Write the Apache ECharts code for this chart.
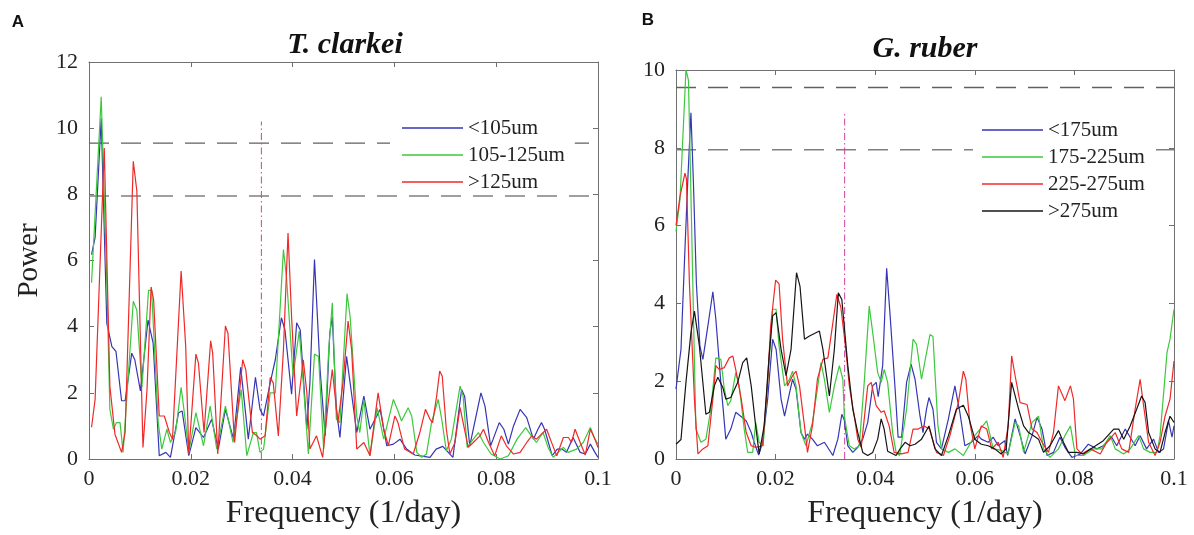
<!DOCTYPE html>
<html><head><meta charset="utf-8">
<script src="https://cdn.jsdelivr.net/npm/echarts@6/dist/echarts.min.js"></script>
<style>html,body{margin:0;padding:0;background:#fff}#c{width:1194px;height:535px}</style>
</head><body><div id="c"></div>
<script>
// ---------- data ----------
const panelTitles = ['T. clarkei', 'G. ruber'];
const panelLetters = ['A', 'B'];
const leftNames = ['<105um', '105-125um', '>125um'];
const rightNames = ['<175um', '175-225um', '225-275um', '>275um'];
const xLabel = 'Frequency (1/day)';
const yLabel = 'Power';

// T. clarkei
const tcSmall = [[0.0005,6.18],[0.0012,6.7],[0.0024,10.3],[0.0035,4.1],[0.0045,3.4],[0.0053,3.25],[0.0064,1.76],[0.0071,1.76],[0.0084,3.2],[0.009,3.0],[0.0101,2.06],[0.0116,4.2],[0.0126,3.5],[0.0138,0.1],[0.0151,0.2],[0.016,0.05],[0.0176,1.4],[0.0183,1.45],[0.0196,0.1],[0.021,0.95],[0.0225,0.65],[0.0241,1.2],[0.0254,0.3],[0.0268,1.5],[0.0284,0.6],[0.0298,2.77],[0.0313,0.6],[0.0327,2.47],[0.0336,1.5],[0.0343,1.3],[0.0356,2.3],[0.0366,3.0],[0.0378,4.27],[0.0385,3.9],[0.0398,1.96],[0.0408,4.12],[0.0415,3.9],[0.0428,0.9],[0.0434,2.3],[0.0443,6.03],[0.0454,2.7],[0.0464,0.7],[0.0473,3.8],[0.0478,4.3],[0.0486,1.5],[0.0493,0.65],[0.0506,3.1],[0.0513,2.3],[0.0526,0.8],[0.054,1.9],[0.0552,0.9],[0.0572,1.5],[0.0585,0.4],[0.0598,0.45],[0.0611,0.6],[0.0624,0.3],[0.064,0.12],[0.0657,0.08],[0.067,0.05],[0.0682,0.3],[0.0695,0.38],[0.0709,0.15],[0.0715,0.05],[0.0722,0.9],[0.0732,2.1],[0.0738,1.9],[0.0748,0.4],[0.0755,0.9],[0.077,2.0],[0.0778,1.6],[0.0789,0.4],[0.0794,0.6],[0.0806,1.1],[0.0815,0.9],[0.0824,0.45],[0.0834,1.0],[0.0847,1.5],[0.086,1.25],[0.0873,0.6],[0.0882,0.9],[0.0889,1.1],[0.0895,0.9],[0.091,0.1],[0.092,0.3],[0.0929,0.3],[0.0938,0.2],[0.0951,0.65],[0.0965,0.2],[0.0975,0.15],[0.0985,0.45],[0.0994,0.2],[0.1,0.05]];
const tcMid = [[0.0005,5.33],[0.0014,8.0],[0.0024,10.95],[0.0035,5.33],[0.0041,1.5],[0.0048,0.9],[0.0054,1.1],[0.0061,1.1],[0.0067,0.2],[0.0087,4.77],[0.0094,4.5],[0.0104,2.17],[0.0117,5.1],[0.0123,5.1],[0.0136,1.1],[0.0143,0.3],[0.0153,0.9],[0.016,0.5],[0.017,0.8],[0.0181,2.17],[0.0192,0.8],[0.0196,0.2],[0.021,1.4],[0.0225,0.4],[0.0238,1.6],[0.0251,0.3],[0.0268,1.6],[0.0283,0.5],[0.0299,2.1],[0.031,0.1],[0.0323,0.8],[0.0329,0.8],[0.0336,0.2],[0.0343,0.3],[0.0356,2.0],[0.0366,2.0],[0.0382,6.33],[0.0388,5.5],[0.0401,2.5],[0.0413,3.87],[0.0421,2.3],[0.0431,0.15],[0.0443,3.17],[0.0451,3.1],[0.0461,0.3],[0.0471,3.3],[0.0478,4.72],[0.0486,1.2],[0.0493,1.1],[0.0507,5.0],[0.0513,4.3],[0.0526,1.3],[0.0532,0.8],[0.054,1.8],[0.0552,0.1],[0.0566,1.55],[0.0579,0.6],[0.0598,1.8],[0.0607,1.45],[0.0614,1.15],[0.0627,1.55],[0.0634,1.3],[0.0644,0.2],[0.0654,0.05],[0.0663,0.15],[0.0673,1.1],[0.0686,1.8],[0.0693,1.2],[0.0702,0.25],[0.0712,0.6],[0.0729,2.2],[0.0735,1.9],[0.0743,0.35],[0.0755,0.6],[0.0765,0.8],[0.0775,0.5],[0.079,0.15],[0.0808,0],[0.0824,0.1],[0.0841,0.6],[0.0858,0.95],[0.0869,0.7],[0.0879,0.5],[0.0892,0.8],[0.0902,0.35],[0.0912,0.05],[0.0932,0.35],[0.0941,0.2],[0.0958,0.3],[0.0971,0.5],[0.0985,0.95],[0.0994,0.6],[0.1,0.45]];
const tcLarge = [[0.0005,0.96],[0.0012,1.8],[0.003,9.4],[0.0041,2.2],[0.0051,0.75],[0.0064,0.2],[0.0071,0.8],[0.0087,9.0],[0.0094,8.1],[0.0106,0.35],[0.0114,2.1],[0.0122,5.2],[0.0127,4.8],[0.0138,1.3],[0.0148,1.3],[0.0158,0.8],[0.0164,0.6],[0.0181,5.68],[0.019,3.4],[0.0196,0.15],[0.021,3.17],[0.0215,2.9],[0.0226,0.8],[0.0239,3.57],[0.0243,3.2],[0.0253,0.15],[0.0268,4.02],[0.0273,3.8],[0.0286,0.5],[0.0302,3.0],[0.0308,2.7],[0.0321,0.8],[0.033,0.7],[0.0336,0.6],[0.0346,0.7],[0.0356,2.46],[0.0362,2.3],[0.0372,0.7],[0.0382,3.3],[0.0391,6.83],[0.0398,4.3],[0.0408,1.3],[0.0421,3.0],[0.0428,2.0],[0.0434,0.3],[0.0447,0.7],[0.0459,0.05],[0.047,1.7],[0.0478,2.7],[0.0489,1.1],[0.0499,2.3],[0.0509,4.17],[0.0516,3.3],[0.0526,0.3],[0.054,0.5],[0.0552,0.1],[0.0568,2.0],[0.0579,0.9],[0.0588,0.4],[0.0601,1.3],[0.0607,1.1],[0.062,0.3],[0.0637,0.15],[0.065,0.8],[0.0661,1.5],[0.067,1.2],[0.0675,1.1],[0.0683,1.9],[0.0689,2.66],[0.0694,2.5],[0.0702,0.9],[0.0709,0.15],[0.0719,0.5],[0.0729,1.56],[0.0735,1.1],[0.0745,0.35],[0.0755,0.5],[0.0768,0.7],[0.0775,0.9],[0.0785,0.5],[0.0797,0.1],[0.081,0.7],[0.082,0.4],[0.0834,0.15],[0.0847,0.2],[0.086,0.5],[0.087,0.7],[0.0879,0.6],[0.0899,0.9],[0.091,0.45],[0.0919,0.1],[0.0932,0.65],[0.0942,0.65],[0.0948,0.5],[0.0955,0.9],[0.0965,0.5],[0.0975,0.12],[0.0985,0.9],[0.0994,0.6],[0.1,0.35]];

// G. ruber
const grA = [[0,1.8],[0.001,2.82],[0.0018,5.4],[0.0024,7.26],[0.003,8.9],[0.0035,7.1],[0.0041,4.5],[0.0048,2.9],[0.0054,2.56],[0.0064,3.42],[0.0074,4.3],[0.008,3.6],[0.009,1.97],[0.01,0.51],[0.011,0.77],[0.012,1.2],[0.013,1.1],[0.0141,0.98],[0.0151,0.68],[0.0157,0.43],[0.0166,0.1],[0.0174,0.43],[0.0184,1.54],[0.0194,3.08],[0.0201,2.82],[0.0211,1.54],[0.0218,1.1],[0.0228,1.7],[0.0234,2.05],[0.0241,1.8],[0.0251,0.68],[0.0258,0.51],[0.0264,0.64],[0.0274,0.51],[0.0284,0.34],[0.0298,0.43],[0.0315,0.09],[0.0325,0.51],[0.0333,1.15],[0.0338,1.0],[0.0345,0.34],[0.0355,0.17],[0.0365,0.3],[0.0375,0.51],[0.0385,0.94],[0.0395,1.88],[0.0402,1.97],[0.0406,1.6],[0.0415,2.4],[0.0423,4.9],[0.043,3.68],[0.044,1.8],[0.0446,0.56],[0.0453,0.56],[0.0463,1.97],[0.0472,2.44],[0.048,2.05],[0.049,1.1],[0.0496,0.68],[0.0503,1.28],[0.0508,1.58],[0.0516,1.28],[0.0523,0.43],[0.0533,0.26],[0.0547,1.03],[0.056,1.88],[0.057,1.2],[0.058,0.34],[0.0593,0.43],[0.0607,0.6],[0.0613,0.51],[0.0627,0.43],[0.0637,0.56],[0.0647,0.34],[0.066,0.47],[0.0666,0.09],[0.0681,1.03],[0.0691,0.6],[0.0701,0.13],[0.0715,0.6],[0.0725,1.07],[0.0735,0.77],[0.0745,0.09],[0.0758,0.17],[0.0771,0.56],[0.0781,0.3],[0.0795,0.04],[0.0812,0.13],[0.0828,0.38],[0.0845,0.26],[0.0858,0.34],[0.0875,0.56],[0.0885,0.34],[0.0902,0.77],[0.0912,0.56],[0.0922,0.34],[0.0932,0.6],[0.0945,0.26],[0.0959,0.51],[0.0969,0.17],[0.0979,0.26],[0.0989,0.98],[0.0996,0.56],[0.1,0.85]];
const grB = [[0,5.85],[0.0008,6.67],[0.002,10.0],[0.0025,9.74],[0.0031,6.2],[0.0037,2.5],[0.004,0.77],[0.005,0.43],[0.006,0.51],[0.007,1.28],[0.008,2.6],[0.009,2.56],[0.0097,1.8],[0.0104,1.37],[0.011,1.5],[0.012,2.22],[0.0127,1.88],[0.0137,0.77],[0.0144,0.17],[0.0154,0.17],[0.016,0.94],[0.0167,0.43],[0.0175,0.34],[0.0184,1.97],[0.0194,3.85],[0.0201,3.85],[0.0207,2.9],[0.0218,1.88],[0.0228,2.05],[0.0234,2.26],[0.0241,1.88],[0.0251,0.68],[0.0261,0.34],[0.0274,0.94],[0.0284,1.8],[0.0291,2.48],[0.0298,2.05],[0.0308,1.2],[0.0318,1.88],[0.0328,2.4],[0.0335,2.05],[0.0338,1.1],[0.0348,0.34],[0.0358,0.26],[0.0368,0.34],[0.0378,1.97],[0.0388,3.93],[0.0395,3.25],[0.0405,2.22],[0.0412,1.97],[0.0418,2.3],[0.0425,1.97],[0.0435,0.68],[0.0442,0.17],[0.0449,0.09],[0.0463,1.28],[0.0476,3.08],[0.0483,2.95],[0.0493,2.05],[0.051,3.2],[0.0516,3.15],[0.0526,0.85],[0.0533,0.26],[0.0547,0.17],[0.056,0.26],[0.0577,0.09],[0.06,0.6],[0.0624,0.98],[0.0637,0.26],[0.0654,0.22],[0.0667,0.13],[0.0681,0.94],[0.0688,0.85],[0.0698,0.17],[0.0715,0.94],[0.0728,1.1],[0.0738,0.26],[0.0751,0.04],[0.0768,0.26],[0.0781,0.6],[0.0792,0.85],[0.0802,0.09],[0.0818,0.09],[0.0838,0.26],[0.0855,0.26],[0.0872,0.6],[0.0882,0.26],[0.0899,0.13],[0.0912,0.26],[0.0929,0.6],[0.0939,0.26],[0.0952,0.17],[0.0966,0.17],[0.0972,0.6],[0.0986,2.74],[0.0992,3.08],[0.1,3.85]];
const grC = [[0,6.0],[0.0008,6.75],[0.0018,7.35],[0.0021,7.2],[0.0027,4.5],[0.0037,1.54],[0.0044,0.13],[0.0054,0.26],[0.0064,0.34],[0.0074,1.54],[0.008,2.4],[0.0087,2.3],[0.0097,2.35],[0.0107,2.6],[0.0114,2.65],[0.012,2.3],[0.0131,1.54],[0.0141,0.68],[0.0151,0.34],[0.016,0.3],[0.0174,0.34],[0.0184,1.97],[0.019,3.4],[0.02,4.6],[0.0207,4.5],[0.0214,3.08],[0.0224,1.88],[0.0234,2.14],[0.0241,2.26],[0.0248,1.88],[0.0258,0.85],[0.0264,0.17],[0.0274,0.85],[0.0284,2.05],[0.0295,2.56],[0.0305,2.6],[0.0315,3.5],[0.0323,4.23],[0.0331,3.9],[0.0341,2.82],[0.0348,1.88],[0.0358,1.1],[0.0365,0.51],[0.0372,0.3],[0.0378,1.03],[0.0385,1.88],[0.0392,1.97],[0.0402,1.37],[0.0412,1.2],[0.0418,1.24],[0.0428,0.85],[0.0438,0.17],[0.0453,0.13],[0.0466,0.17],[0.0476,0.77],[0.0486,0.77],[0.0498,0.85],[0.0509,0.77],[0.0523,0.17],[0.0537,0.09],[0.055,0.6],[0.0567,1.45],[0.0577,2.26],[0.0582,2.05],[0.059,0.94],[0.06,0.26],[0.0613,0.85],[0.0624,0.77],[0.0634,0.26],[0.0647,0.43],[0.0657,0.04],[0.0667,0.85],[0.0674,2.65],[0.0681,2.14],[0.0691,1.45],[0.0705,1.4],[0.0715,0.77],[0.0725,0.68],[0.0735,0.43],[0.0748,0.17],[0.0758,0.68],[0.0768,1.88],[0.0771,1.84],[0.0781,1.5],[0.0792,1.88],[0.0798,1.55],[0.0805,0.26],[0.0815,0.13],[0.0832,0.26],[0.0852,0.13],[0.0865,0.43],[0.0882,0.68],[0.0895,0.26],[0.0909,0.17],[0.0922,1.28],[0.0932,2.05],[0.0939,1.37],[0.0949,0.43],[0.0962,0.09],[0.0972,0.43],[0.0982,1.1],[0.0992,1.54],[0.1,2.52]];
const grD = [[0,0.38],[0.001,0.5],[0.002,1.97],[0.003,3.25],[0.0037,3.8],[0.0047,2.9],[0.006,1.15],[0.0067,1.2],[0.0077,1.88],[0.0084,2.1],[0.0094,1.84],[0.01,1.54],[0.011,1.58],[0.0124,1.97],[0.0134,2.48],[0.0142,2.6],[0.0151,1.88],[0.016,0.85],[0.0167,0.13],[0.0177,0.85],[0.0187,2.65],[0.0194,3.68],[0.0201,3.76],[0.0211,2.82],[0.0221,2.14],[0.0231,2.82],[0.0242,4.79],[0.0249,4.44],[0.0258,3.08],[0.0268,3.16],[0.0288,3.29],[0.0295,2.82],[0.0308,1.62],[0.0318,2.82],[0.0326,4.27],[0.0333,4.1],[0.0345,2.4],[0.0355,1.28],[0.0365,0.68],[0.0375,0.17],[0.0385,0.09],[0.0395,0.17],[0.0405,0.51],[0.0412,1.03],[0.0418,0.77],[0.0425,0.2],[0.0442,0.09],[0.045,0.26],[0.046,0.43],[0.047,0.34],[0.048,0.38],[0.0493,0.51],[0.0508,0.85],[0.052,0.26],[0.0533,0.09],[0.0547,0.6],[0.0563,1.28],[0.0577,1.38],[0.0587,1.1],[0.06,0.51],[0.0613,0.38],[0.0627,0.34],[0.064,0.26],[0.0653,0.13],[0.0663,0.26],[0.0674,1.97],[0.0678,2.0],[0.0688,1.28],[0.0698,0.85],[0.0708,0.68],[0.0718,0.6],[0.0728,0.51],[0.0738,0.17],[0.0751,0.34],[0.0768,0.73],[0.0778,0.43],[0.0788,0.17],[0.0805,0.17],[0.0818,0.13],[0.0838,0.3],[0.0858,0.47],[0.0879,0.77],[0.0889,0.77],[0.0899,0.51],[0.0912,0.85],[0.0925,1.28],[0.0935,1.62],[0.0942,1.45],[0.0949,0.68],[0.0962,0.26],[0.0972,0.17],[0.0982,0.68],[0.0992,1.1],[0.1,0.94]];

const sigLevels = [9.55, 7.95];        // dashed significance lines (both panels)
const lunarFreq = 1 / 29.53;           // vertical dash-dot line
const lunarTop = [10.2, 8.9];          // its top in each panel
const yMax = [12, 10];
const xMax = 0.1, xStep = 0.02, yStep = 2;

// ---------- styles ----------
const SERIF = "'Liberation Serif','Times New Roman','DejaVu Serif',serif";
const SANS = "'Liberation Sans',Arial,sans-serif";
const C_BLUE = '#3535b5', C_GREEN = '#3cc83c', C_RED = '#f02828', C_BLACK = '#151515';
const leftColors = [C_BLUE, C_GREEN, C_RED];
const rightColors = [C_BLUE, C_GREEN, C_RED, C_BLACK];
const AX = '#707070';

const grids = [
  {left: 89, right: 1194 - 598, top: 62, bottom: 535 - 460},
  {left: 676, right: 1194 - 1174, top: 70, bottom: 535 - 460}
];

function xFmt(v) { return String(+v.toFixed(2)); }
const xAxes = [], yAxes = [];
[0, 1].forEach(g => {
  const base = {type: 'value', gridIndex: g, min: 0, max: xMax, interval: xStep,
    axisLine: {show: true, onZero: false, lineStyle: {color: AX, width: 1}},
    axisTick: {show: true, inside: true, length: 5, lineStyle: {color: AX}},
    splitLine: {show: false}};
  xAxes.push(Object.assign({}, base, {position: 'bottom',
    axisLabel: {formatter: xFmt, fontFamily: SERIF, fontSize: 22, color: '#222', margin: 9},
    name: xLabel, nameLocation: 'middle', nameGap: 39,
    nameTextStyle: {fontFamily: SERIF, fontSize: 32, color: '#222'}}));
  xAxes.push(Object.assign({}, base, {position: 'top', axisLabel: {show: false}}));
  const ybase = {type: 'value', gridIndex: g, min: 0, max: yMax[g], interval: yStep,
    axisLine: {show: true, onZero: false, lineStyle: {color: AX, width: 1}},
    axisTick: {show: true, inside: true, length: 5, lineStyle: {color: AX}},
    splitLine: {show: false}};
  const yl = Object.assign({}, ybase, {position: 'left',
    axisLabel: {fontFamily: SERIF, fontSize: 22, color: '#222', margin: 11}});
  if (g === 0) {
    Object.assign(yl, {name: yLabel, nameLocation: 'middle', nameGap: 45,
      nameTextStyle: {fontFamily: SERIF, fontSize: 29, color: '#222'}});
  }
  yAxes.push(yl);
  yAxes.push(Object.assign({}, ybase, {position: 'right', axisLabel: {show: false}}));
});

const series = [];
function addRefLines(g) {
  const xi = g * 2, yi = g * 2;
  sigLevels.forEach((v, k) => {
    series.push({type: 'line', xAxisIndex: xi, yAxisIndex: yi, data: [[0, v], [xMax, v]],
      symbol: 'none', silent: true, animation: false, z: 1,
      lineStyle: {color: k === 0 ? '#606060' : '#808080', width: 1.3, type: [20, 12]}});
  });
  series.push({type: 'line', xAxisIndex: xi, yAxisIndex: yi,
    data: [[lunarFreq, 0], [lunarFreq, lunarTop[g]]], symbol: 'none', silent: true,
    animation: false, z: 1, lineStyle: {color: '#d0409c', width: 1, type: [7, 3, 1.5, 3]}});
}
function addCurve(g, name, data, color) {
  series.push({type: 'line', name, xAxisIndex: g * 2, yAxisIndex: g * 2, data,
    symbol: 'none', animation: false, z: 3, color,
    lineStyle: {color, width: 1.2}, itemStyle: {color}});
}
addRefLines(0);
addRefLines(1);
[tcSmall, tcMid, tcLarge].forEach((d, i) => addCurve(0, leftNames[i], d, leftColors[i]));
[grA, grB, grC, grD].forEach((d, i) => addCurve(1, rightNames[i], d, rightColors[i]));

const legendBase = {orient: 'vertical', icon: 'rect', itemWidth: 61, itemHeight: 1.3, itemGap: 5,
  backgroundColor: '#fff', selectedMode: false,
  textStyle: {fontFamily: SERIF, fontSize: 21, color: '#222', lineHeight: 22}};

const option = {
  backgroundColor: '#fff',
  animation: false,
  grid: grids,
  xAxis: xAxes,
  yAxis: yAxes,
  legend: [
    Object.assign({}, legendBase, {data: leftNames, left: 390, top: 114, padding: [3, 10, 0, 12]}),
    Object.assign({}, legendBase, {data: rightNames, left: 973, top: 116, padding: [3, 10, 2, 9]})
  ],
  graphic: [
    {type: 'text', x: 18, y: 22, style: {text: panelLetters[0], font: 'bold 17px ' + SANS, fill: '#111', textAlign: 'center', textVerticalAlign: 'middle'}},
    {type: 'text', x: 648, y: 20, style: {text: panelLetters[1], font: 'bold 17px ' + SANS, fill: '#111', textAlign: 'center', textVerticalAlign: 'middle'}},
    {type: 'text', x: 345, y: 45, style: {text: panelTitles[0], font: 'italic bold 30px ' + SERIF, fill: '#111', textAlign: 'center', textVerticalAlign: 'middle'}},
    {type: 'text', x: 925, y: 49, style: {text: panelTitles[1], font: 'italic bold 30px ' + SERIF, fill: '#111', textAlign: 'center', textVerticalAlign: 'middle'}}
  ],
  series
};
const chart = echarts.init(document.getElementById('c'), null, {renderer: 'canvas'});
chart.setOption(option);
</script>
</body></html>
